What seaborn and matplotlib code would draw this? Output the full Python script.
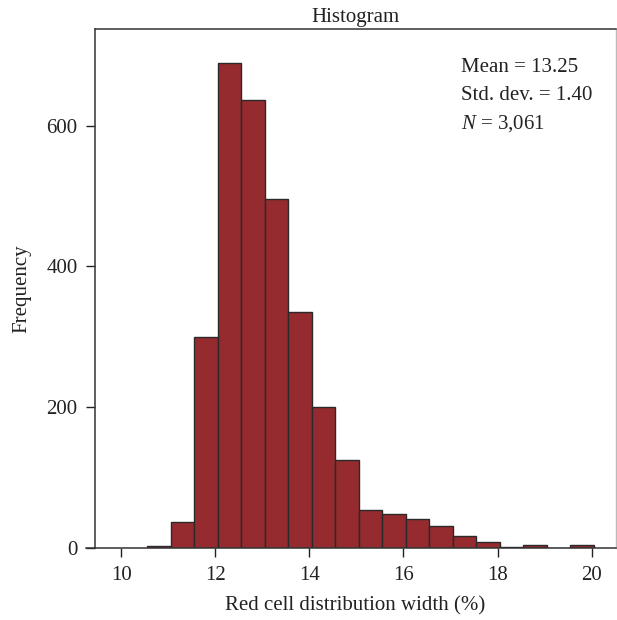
import matplotlib
matplotlib.use("Agg")
import matplotlib.pyplot as plt
import seaborn as sns
import numpy as np
import pandas as pd

# Data
bin_edges = [10.55, 11.05, 11.55, 12.05, 12.55, 13.05, 13.55, 14.05, 14.55, 15.05,
             15.55, 16.05, 16.55, 17.05, 17.55, 18.05, 18.55, 19.05, 19.55, 20.05]
counts = [3, 38, 300, 689, 636, 496, 335, 201, 126, 55, 49, 42, 31, 18, 9, 2, 4, 1, 5]
x_ticks = [10, 12, 14, 16, 18, 20]
y_ticks = [0, 200, 400, 600]
stats_lines = ["Mean = 13.25", "Std. dev. = 1.40"]
n_text = "3,061"

centers = [(a + b) / 2 for a, b in zip(bin_edges[:-1], bin_edges[1:])]
df = pd.DataFrame({"rdw": centers, "count": counts})

sns.set_style("white")
plt.rcParams["font.family"] = ["Liberation Serif", "DejaVu Serif"]
plt.rcParams["mathtext.fontset"] = "custom"
plt.rcParams["mathtext.it"] = "Liberation Serif:italic"
plt.rcParams["mathtext.rm"] = "Liberation Serif"

FS = 15
fig = plt.figure(figsize=(6.17, 6.2), dpi=100)
ax = fig.add_axes([95 / 617, (620 - 548.3) / 620, (616 - 95) / 617, (548.3 - 29) / 620])

sns.histplot(data=df, x="rdw", weights="count", bins=bin_edges, ax=ax,
             color="#952a2f", alpha=1.0, edgecolor="#2a2a2a", linewidth=1.0)

ax.set_xlim(9.44, 20.52)
ax.set_ylim(0, 737)
ax.set_xticks(x_ticks)
ax.set_yticks(y_ticks)
ax.tick_params(axis="both", direction="out", length=6.5, width=1.0, colors="#222222",
               labelsize=FS, labelcolor="#222222", bottom=True, left=True)
ax.tick_params(axis="x", pad=6.5)
ax.tick_params(axis="y", pad=6)

for s in ["left", "bottom", "top"]:
    ax.spines[s].set_color("#333333")
    ax.spines[s].set_linewidth(1.1)
ax.spines["right"].set_color("#bbbbbb")
ax.spines["right"].set_linewidth(1.0)
ax.spines["bottom"].set_bounds(9.25, 20.52)

ax.set_xlabel("Red cell distribution width (%)", fontsize=FS, color="#222222", labelpad=8)
ax.set_ylabel("Frequency", fontsize=FS, color="#222222", labelpad=11)
ax.set_title("Histogram", fontsize=FS, color="#222222", pad=5)

tx = 0.702
ax.text(tx, 0.925, stats_lines[0], transform=ax.transAxes, fontsize=FS, color="#222222", va="center")
ax.text(tx, 0.871, stats_lines[1], transform=ax.transAxes, fontsize=FS, color="#222222", va="center")
ax.text(tx, 0.817, r"$N$ = " + n_text, transform=ax.transAxes, fontsize=FS, color="#222222", va="center")

fig.savefig("out.png", dpi=100)
